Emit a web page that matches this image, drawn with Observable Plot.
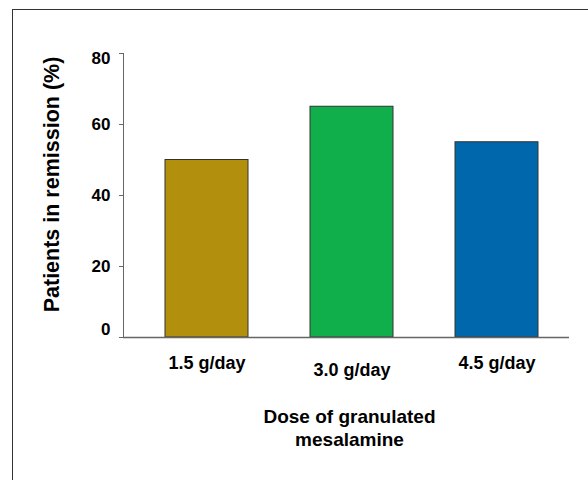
<!DOCTYPE html>
<html>
<head>
<meta charset="utf-8">
<script src="https://cdn.jsdelivr.net/npm/d3@7"></script>
<script src="https://cdn.jsdelivr.net/npm/@observablehq/plot@0.6"></script>
<style>
  html, body { margin: 0; padding: 0; background: #fff; overflow: hidden; width: 588px; height: 480px; }
  #wrap { position: relative; width: 588px; height: 480px; }
  #border { position: absolute; left: 12px; top: 9px; width: 700px; height: 600px;
            border-left: 1px solid #333; border-top: 1px solid #333; box-sizing: border-box; }
  #chart { position: absolute; left: 0; top: 0; }
  svg { font-family: "Liberation Sans", Arial, sans-serif; font-weight: bold; }
</style>
</head>
<body>
<div id="wrap"><div id="border"></div><div id="chart"></div></div>
<script>
const doses = ["1.5 g/day", "3.0 g/day", "4.5 g/day"];
const remission = [50, 65, 55];
const barColors = ["#B38F0E", "#10AF4C", "#0067AC"];
const yTicks = [0, 20, 40, 60, 80];
const yTitle = "Patients in remission (%)";
const xTitle = "Dose of granulated\nmesalamine";

const data = doses.map((d, i) => ({dose: d, value: remission[i], color: barColors[i]}));

const plot = Plot.plot({
  width: 588,
  height: 480,
  marginLeft: 123,
  marginRight: 19,
  marginTop: 53,
  marginBottom: 143,
  style: {fontFamily: '"Liberation Sans", Arial, sans-serif', fontWeight: "bold", background: "transparent", color: "#666"},
  x: {domain: doses, paddingInner: 0.43, paddingOuter: 0.25, align: 0.57, axis: null},
  y: {domain: [0, 80], ticks: yTicks, tickSize: 4, tickPadding: 0, tickFormat: () => "", line: true, label: null},
  marks: [
    Plot.barY(data, {x: "dose", y: "value", fill: "color", stroke: "#333", strokeWidth: 1}),
    Plot.ruleY([0], {stroke: "#666", strokeWidth: 1.5}),
    Plot.text(yTicks.filter(t => t > 0 && t < 80), {y: d => d, text: d => String(d), frameAnchor: "left", dx: -13, textAnchor: "end", fontSize: 17, fill: "#000"}),
    Plot.text(yTicks.filter(t => t === 80), {y: d => d, text: d => String(d), frameAnchor: "left", dx: -13, dy: 5, textAnchor: "end", fontSize: 17, fill: "#000"}),
    Plot.text(yTicks.filter(t => t === 0), {y: d => d, text: d => String(d), frameAnchor: "left", dx: -13, dy: -8, textAnchor: "end", fontSize: 17, fill: "#000"}),
    Plot.text(data.filter((d, i) => i !== 1), {x: "dose", y: () => 0, text: "dose", dy: 26, lineAnchor: "middle", fontSize: 18, fill: "#000"}),
    Plot.text(data.filter((d, i) => i === 1), {x: "dose", y: () => 0, text: "dose", dy: 33, lineAnchor: "middle", fontSize: 18, fill: "#000"}),
    Plot.text([xTitle], {frameAnchor: "bottom", dx: 3, dy: 90, lineAnchor: "middle", lineHeight: 1.19, fontSize: 19, fill: "#000"}),
    Plot.text([yTitle], {frameAnchor: "left", textAnchor: "middle", dx: -71, dy: -11, rotate: -90, lineAnchor: "middle", fontSize: 21.5, fill: "#000"})
  ]
});
document.getElementById("chart").appendChild(plot);
</script>
</body>
</html>
